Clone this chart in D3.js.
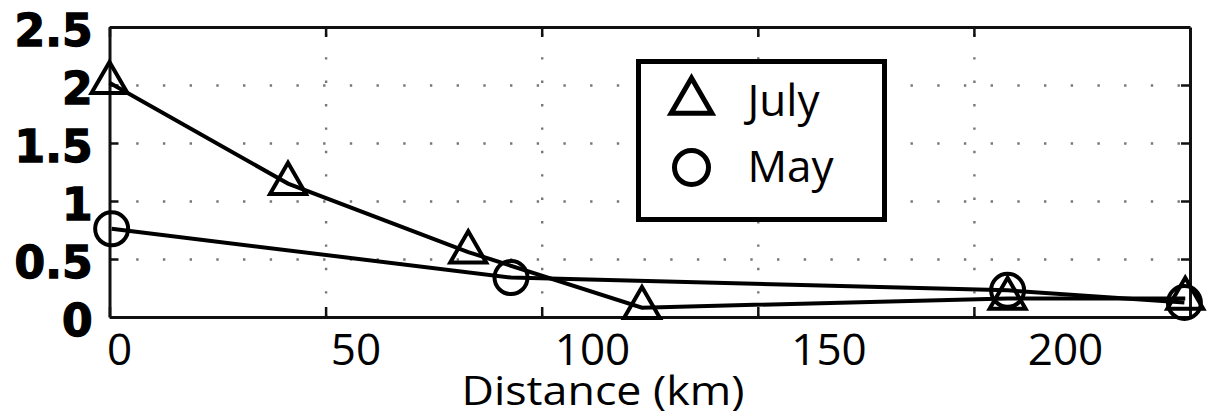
<!DOCTYPE html>
<html>
<head>
<meta charset="utf-8">
<script src="https://cdn.jsdelivr.net/npm/d3@7"></script>
<style>
  body { margin: 0; background: #fff; }
  svg { display: block; }
</style>
</head>
<body>
<div id="chart"></div>
<script>
// values
const julyDistance = [0, 41.3, 83, 123.2, 207.8, 248.9];
const julyValue = [2.02, 1.15, 0.56, 0.08, 0.16, 0.16];
const mayDistance = [0.5, 92.9, 207.8, 248.7];
const mayValue = [0.76, 0.34, 0.23, 0.125];
const seriesNames = ["July", "May"];
const yTicks = [0, 0.5, 1, 1.5, 2, 2.5];
const xTicks = [0, 50, 100, 150, 200];
const xTitle = "Distance (km)";

const width = 1210, height = 417;
const margin = { top: 27, right: 20, bottom: 100, left: 109.5 };
const plotW = width - margin.left - margin.right;
const plotH = height - margin.top - margin.bottom;

const svg = d3.select("#chart").append("svg")
    .attr("width", width)
    .attr("height", height);

const x = d3.scaleLinear().domain([0, 250]).range([margin.left, margin.left + plotW]);
const y = d3.scaleLinear().domain([0, 2.5]).range([margin.top + plotH, margin.top]);
// tick labels in the picture sit a little off the grid, so they get their own scale
const xLabel = d3.scaleLinear().domain([0, 200]).range([119, 1065]);

// dotted grid
svg.append("g")
    .attr("transform", `translate(0,${margin.top + plotH})`)
    .call(d3.axisBottom(x).tickValues(xTicks.filter(d => d > 0)).tickSize(-plotH).tickFormat(""))
    .call(g => g.select(".domain").remove())
    .call(g => g.selectAll("line").attr("stroke", "#777").attr("stroke-width", 2.4).attr("stroke-dasharray", "2.4 21"));

svg.append("g")
    .attr("transform", `translate(${margin.left},0)`)
    .call(d3.axisLeft(y).tickValues(yTicks.filter(d => d > 0 && d < 2.5)).tickSize(-plotW).tickFormat(""))
    .call(g => g.select(".domain").remove())
    .call(g => g.selectAll("line").attr("stroke", "#777").attr("stroke-width", 2.4).attr("stroke-dasharray", "2.4 24.3"));

// box with inward ticks on all four sides
const styleAxis = g => {
    g.select(".domain").attr("stroke", "#111").attr("stroke-width", 3);
    g.selectAll(".tick line").attr("stroke", "#111").attr("stroke-width", 2.5);
};
svg.append("g")
    .attr("transform", `translate(0,${margin.top + plotH})`)
    .call(d3.axisBottom(x).tickValues(xTicks).tickSize(-10).tickSizeOuter(0).tickFormat(""))
    .call(styleAxis);
svg.append("g")
    .attr("transform", `translate(0,${margin.top})`)
    .call(d3.axisTop(x).tickValues(xTicks).tickSize(-10).tickSizeOuter(0).tickFormat(""))
    .call(styleAxis);
svg.append("g")
    .attr("transform", `translate(${margin.left + plotW},0)`)
    .call(d3.axisRight(y).tickValues(yTicks).tickSize(-9).tickSizeOuter(0).tickFormat(""))
    .call(styleAxis);
svg.append("g")
    .attr("transform", `translate(${margin.left},0)`)
    .call(d3.axisLeft(y).tickValues(yTicks).tickSize(-9).tickSizeOuter(0).tickPadding(17).tickFormat(d => String(d)))
    .call(styleAxis)
    .call(g => g.selectAll("text")
        .attr("font-family", "DejaVu Sans")
        .attr("font-weight", "bold")
        .attr("font-size", 44)
        .attr("fill", "#000")
        .attr("stroke", "#000")
        .attr("stroke-width", 1.3)
        .attr("dy", "0.43em"));

// x tick labels
svg.append("g")
    .attr("transform", `translate(0,${margin.top + plotH})`)
    .call(d3.axisBottom(xLabel).tickValues(xTicks).tickSize(0).tickPadding(17))
    .call(g => g.select(".domain").remove())
    .call(g => g.selectAll("text")
        .attr("font-family", "Open Sans")
        .attr("font-size", 44)
        .attr("fill", "#000"));

svg.append("text")
    .attr("x", 603)
    .attr("y", 405)
    .attr("text-anchor", "middle")
    .attr("font-family", "Open Sans")
    .attr("font-size", 40)
    .attr("textLength", 283)
    .attr("lengthAdjust", "spacingAndGlyphs")
    .text(xTitle);

// series
const july = julyDistance.map((d, i) => ({ d, v: julyValue[i] }));
const may = mayDistance.map((d, i) => ({ d, v: mayValue[i] }));
const line = d3.line().x(p => x(p.d)).y(p => y(p.v));

const triangle = d3.symbol().type(d3.symbolTriangle).size(560);
const circleR = 16.5;

svg.append("path").datum(july)
    .attr("d", line).attr("fill", "none").attr("stroke", "#000").attr("stroke-width", 4);
svg.append("path").datum(may)
    .attr("d", line).attr("fill", "none").attr("stroke", "#000").attr("stroke-width", 4);

svg.append("g").selectAll("path").data(july).join("path")
    .attr("transform", p => `translate(${x(p.d)},${y(p.v)})`)
    .attr("d", triangle)
    .attr("fill", "none").attr("stroke", "#000").attr("stroke-width", 4);

svg.append("g").selectAll("circle").data(may).join("circle")
    .attr("cx", p => x(p.d)).attr("cy", p => y(p.v)).attr("r", circleR)
    .attr("fill", "none").attr("stroke", "#000").attr("stroke-width", 4);

// legend
const legend = svg.append("g").attr("transform", "translate(638.5,61.5)");
legend.append("rect")
    .attr("width", 246).attr("height", 158)
    .attr("fill", "#fff").attr("stroke", "#000").attr("stroke-width", 5);
const rows = legend.selectAll("g.row").data(seriesNames).join("g")
    .attr("class", "row")
    .attr("transform", (d, i) => `translate(53,${40 + i * 66})`);
rows.filter((d, i) => i === 0).append("path")
    .attr("d", d3.symbol().type(d3.symbolTriangle).size(720))
    .attr("fill", "none").attr("stroke", "#000").attr("stroke-width", 5);
rows.filter((d, i) => i === 1).append("circle")
    .attr("r", 17)
    .attr("fill", "none").attr("stroke", "#000").attr("stroke-width", 5);
rows.append("text")
    .attr("x", 56)
    .attr("y", 14)
    .attr("font-family", "Open Sans")
    .attr("font-size", 44)
    .text(d => d);
</script>
</body>
</html>
